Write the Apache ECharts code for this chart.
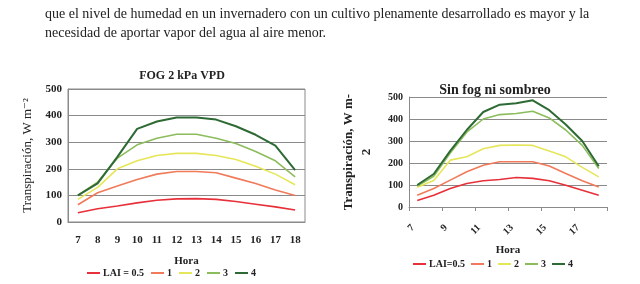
<!DOCTYPE html>
<html><head><meta charset="utf-8">
<script src="https://cdn.jsdelivr.net/npm/echarts@6/dist/echarts.min.js"></script>
<style>html,body{margin:0;padding:0;background:#fff}#c{width:640px;height:284px}</style>
</head><body><div id="c"></div>
<script>
const hours = ['7','8','9','10','11','12','13','14','15','16','17','18'];
const seriesNames = ['LAI = 0.5','1','2','3','4'];
const seriesNamesR = ['LAI=0.5','1','2','3','4'];
const colors = ['#e8303a','#f07a5a','#e6e65a','#8cbc5c','#2e6a34'];
// Left chart: FOG 2 kPa VPD
const fog_lai05 = [35, 50, 60, 72, 82, 87, 88, 85, 77, 67, 57, 45];
const fog_lai1  = [65, 110, 135, 160, 180, 190, 190, 185, 165, 145, 120, 100];
const fog_lai2  = [85, 130, 200, 230, 250, 258, 258, 250, 235, 210, 180, 140];
const fog_lai3  = [100, 150, 240, 290, 315, 330, 330, 315, 295, 265, 230, 170];
const fog_lai4  = [100, 145, 245, 350, 378, 393, 393, 385, 360, 328, 287, 195];
// Right chart: Sin fog ni sombreo
const sin_lai05 = [30, 53, 84, 107, 119, 125, 134, 130, 119, 99, 76, 53];
const sin_lai1  = [53, 84, 122, 160, 190, 206, 206, 206, 186, 152, 119, 91];
const sin_lai2  = [90, 120, 213, 228, 265, 280, 282, 280, 255, 228, 180, 137];
const sin_lai3  = [95, 140, 245, 340, 400, 420, 425, 435, 405, 350, 280, 175];
const sin_lai4  = [100, 150, 255, 350, 432, 465, 472, 485, 440, 375, 300, 185];
const yTicks = [0, 100, 200, 300, 400, 500];

const fogData = [fog_lai05, fog_lai1, fog_lai2, fog_lai3, fog_lai4];
const sinData = [sin_lai05, sin_lai1, sin_lai2, sin_lai3, sin_lai4];
const serif = '"Liberation Serif", "DejaVu Serif", serif';
const grid = '#8a8a8a';

const series = [];
fogData.forEach((d, i) => series.push({
  name: seriesNames[i], type: 'line', xAxisIndex: 0, yAxisIndex: 0, data: d,
  symbol: 'none', lineStyle: {width: i === 4 ? 2 : 1.6, color: colors[i]}, itemStyle: {color: colors[i]}
}));
sinData.forEach((d, i) => series.push({
  name: seriesNamesR[i], type: 'line', xAxisIndex: 1, yAxisIndex: 1, data: d,
  symbol: 'none', lineStyle: {width: i === 4 ? 2 : 1.6, color: colors[i]}, itemStyle: {color: colors[i]}
}));

const chart = echarts.init(document.getElementById('c'));
chart.setOption({
  animation: false,
  backgroundColor: '#fff',
  textStyle: {fontFamily: serif},
  title: [
    {text: 'FOG 2 kPa VPD', left: 177, top: 65, textAlign: 'center',
     textStyle: {fontFamily: serif, fontSize: 12, fontWeight: 'bold', color: '#222'}},
    {text: 'Sin fog ni sombreo', left: 490, top: 78, textAlign: 'center',
     textStyle: {fontFamily: serif, fontSize: 14, fontWeight: 'bold', color: '#222'}}
  ],
  graphic: [
    {type: 'text', left: 45, top: 7, style: {text: 'que el nivel de humedad en un invernadero con un cultivo plenamente desarrollado es mayor y la', font: '14px ' + serif, fill: '#222'}},
    {type: 'text', left: 45, top: 26, style: {text: 'necesidad de aportar vapor del agua al aire menor.', font: '14px ' + serif, fill: '#222'}}
  ],
  legend: [
    {data: seriesNames, left: 82, top: 263, itemWidth: 13, itemHeight: 2, itemGap: 7, icon: 'rect',
     textStyle: {fontFamily: serif, fontSize: 10, color: '#222', fontWeight: 'bold', padding: [0, 0, 0, -2]}},
    {data: seriesNamesR, left: 408, top: 254, itemWidth: 13, itemHeight: 2, itemGap: 6, icon: 'rect',
     textStyle: {fontFamily: serif, fontSize: 10, color: '#222', fontWeight: 'bold', padding: [0, 0, 0, -2]}}
  ],
  grid: [
    {left: 68, right: 335, top: 89, bottom: 62, show: true, borderColor: grid, borderWidth: 1},
    {left: 409, right: 33, top: 97, bottom: 77}
  ],
  xAxis: [
    {type: 'category', gridIndex: 0, data: hours, boundaryGap: true,
     axisLine: {lineStyle: {color: grid}}, axisTick: {show: false},
     axisLabel: {fontFamily: serif, fontSize: 11, fontWeight: 'bold', color: '#222', margin: 13, interval: 0},
     name: 'Hora', nameLocation: 'middle', nameGap: 34,
     nameTextStyle: {fontFamily: serif, fontSize: 11, fontWeight: 'bold', color: '#222'}},
    {type: 'category', gridIndex: 1, data: hours, boundaryGap: true,
     axisLine: {lineStyle: {color: grid}}, axisTick: {show: true, interval: 1, length: 4, lineStyle: {color: grid}},
     axisLabel: {fontFamily: serif, fontSize: 10, fontWeight: 'bold', color: '#222', margin: 15, interval: 1, rotate: 45, padding: [0, 6, 0, 0]},
     name: 'Hora', nameLocation: 'middle', nameGap: 38,
     nameTextStyle: {fontFamily: serif, fontSize: 11, fontWeight: 'bold', color: '#222'}},
  ],
  yAxis: [
    {type: 'value', gridIndex: 0, min: 0, max: 500, interval: 100,
     axisLine: {show: true, lineStyle: {color: grid}}, axisTick: {show: false},
     splitLine: {lineStyle: {color: grid, width: 1}},
     axisLabel: {fontFamily: serif, fontSize: 11, fontWeight: 'bold', color: '#222', margin: 6},
     name: 'Transpiración, W m⁻²', nameLocation: 'middle', nameGap: 34,
     nameTextStyle: {fontFamily: serif, fontSize: 13, color: '#222'}},
    {type: 'value', gridIndex: 1, min: 0, max: 500, interval: 100,
     axisLine: {show: true, lineStyle: {color: grid}}, axisTick: {show: false},
     splitLine: {lineStyle: {color: grid, width: 1}},
     axisLabel: {fontFamily: serif, fontSize: 10, fontWeight: 'bold', color: '#222', margin: 6},
     name: 'Transpiración, W m-\n2', nameLocation: 'middle', nameGap: 33,
     nameTextStyle: {fontFamily: serif, fontSize: 13, fontWeight: 'bold', color: '#222', lineHeight: 18}}
  ],
  series: series
});
</script></body></html>
